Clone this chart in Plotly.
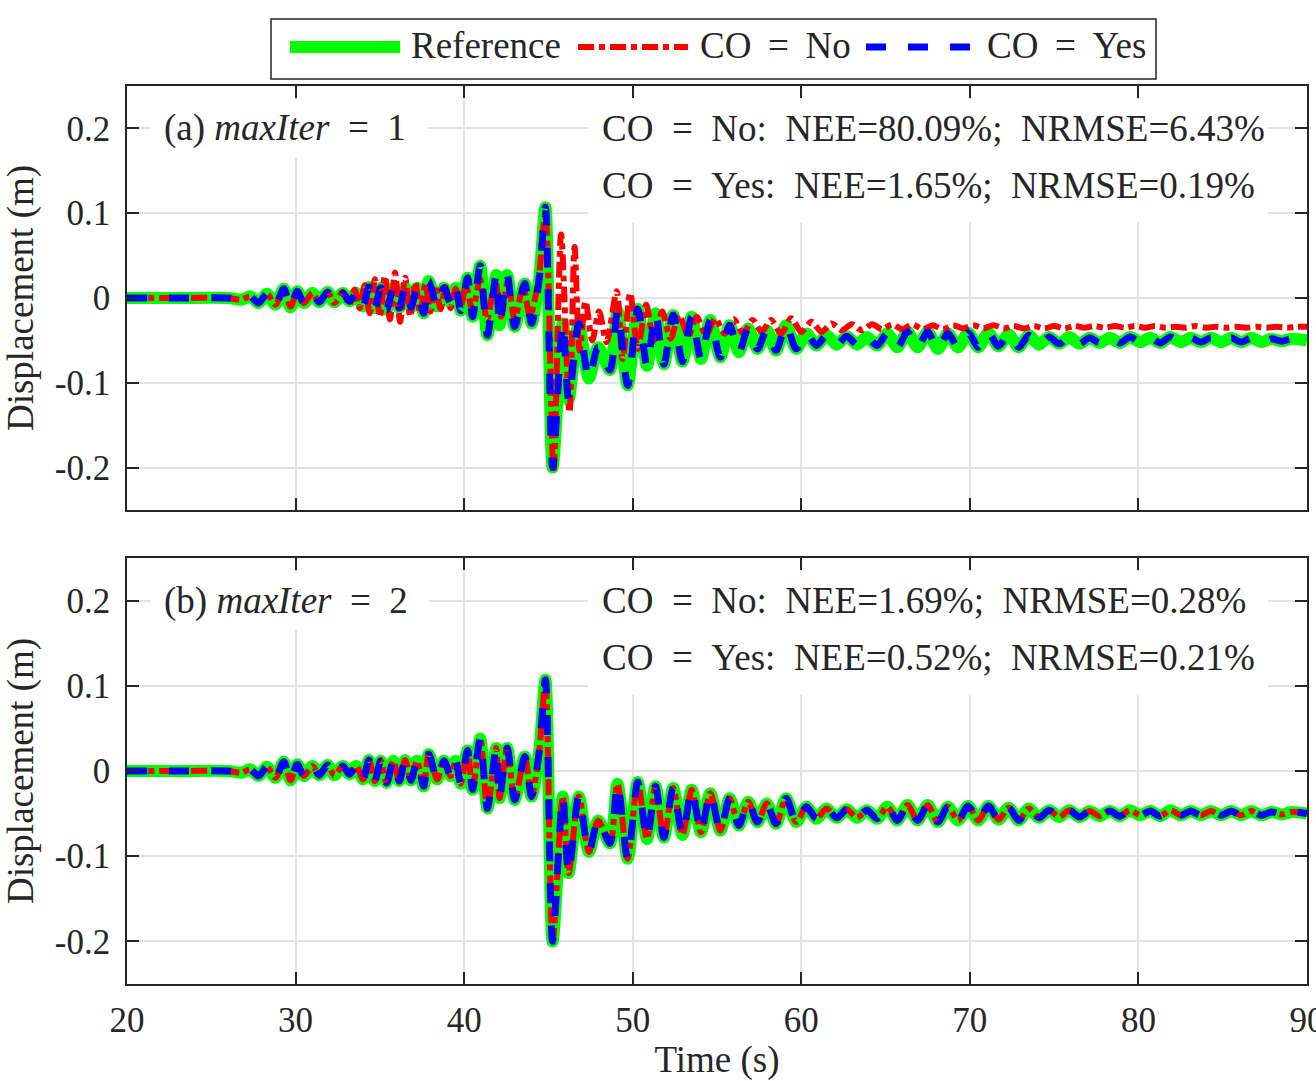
import plotly.graph_objects as go

# ---------------- data ----------------
t_ref = [20.0, 23.0, 26.0, 26.8, 27.3, 27.8, 28.3, 28.8, 29.3, 29.7,
         30.1, 30.5, 31.0, 31.4, 31.9, 32.3, 32.8, 33.2, 33.6, 34.0,
         34.35, 34.7, 35.05, 35.4, 35.8, 36.15, 36.5, 36.85, 37.2, 37.6,
         37.9, 38.4, 38.8, 39.2, 39.5, 39.8, 40.2, 40.5, 40.95, 41.38,
         41.9, 42.1, 42.55, 43.0, 43.6, 44.0, 44.45, 44.82, 45.25, 45.85,
         46.2, 46.8, 47.4, 47.95, 48.65, 49.1, 49.7, 50.3, 50.85, 51.35,
         51.85, 52.4, 52.95, 53.5, 54.05, 54.6, 55.2, 55.75, 56.3, 56.85,
         57.4, 57.95, 58.5, 59.1, 59.7, 60.3, 60.9, 61.5, 62.1, 62.7,
         63.3, 63.9, 64.5, 65.1, 65.7, 66.3, 66.9, 67.5, 68.1, 68.7,
         69.3, 69.9, 70.5, 71.1, 71.7, 72.3, 72.9, 73.5, 74.1, 74.7,
         75.3, 75.9, 76.5, 77.1, 77.7, 78.3, 78.9, 79.5, 80.1, 80.7,
         81.3, 81.9, 82.5, 83.1, 83.7, 84.3, 84.9, 85.5, 86.1, 86.7,
         87.3, 87.9, 88.5, 89.1, 90.0]
ref = [0.0, 0.0, 0.0, -0.002, 0.002, -0.006, 0.005, -0.008, 0.011, -0.011,
       0.008, -0.006, 0.006, -0.005, 0.007, -0.005, 0.006, -0.004, 0.006, -0.010,
       0.013, -0.012, 0.012, -0.014, 0.012, -0.012, 0.013, -0.011, 0.012, -0.018,
       0.020, -0.010, 0.012, -0.006, 0.012, -0.015, 0.024, -0.022, 0.038, -0.044,
       0.027, -0.032, 0.027, -0.034, 0.017, -0.030, 0.022, 0.107, -0.200, -0.030,
       -0.120, -0.030, -0.095, -0.058, -0.085, -0.015, -0.103, -0.013, -0.080, -0.018,
       -0.078, -0.020, -0.075, -0.022, -0.072, -0.026, -0.070, -0.032, -0.064, -0.036,
       -0.060, -0.038, -0.062, -0.032, -0.060, -0.042, -0.056, -0.044, -0.055, -0.045,
       -0.055, -0.046, -0.056, -0.042, -0.058, -0.040, -0.058, -0.040, -0.060, -0.042,
       -0.058, -0.041, -0.058, -0.041, -0.057, -0.043, -0.058, -0.044, -0.055, -0.046,
       -0.054, -0.046, -0.054, -0.047, -0.053, -0.047, -0.053, -0.046, -0.052, -0.047,
       -0.053, -0.046, -0.052, -0.047, -0.052, -0.047, -0.052, -0.047, -0.052, -0.047,
       -0.052, -0.048, -0.051, -0.048, -0.050]

# (a) maxIter = 1, CO = No
t_a_no = [20.0, 23.0, 26.0, 26.8, 27.3, 27.8, 28.3, 28.8, 29.3, 29.7,
          30.1, 30.5, 31.0, 31.4, 31.9, 32.3, 32.8, 33.2, 33.5, 33.8,
          34.1, 34.4, 34.7, 35.0, 35.3, 35.6, 35.9, 36.2, 36.5, 36.8,
          37.1, 37.4, 37.7, 38.0, 38.3, 38.6, 38.9, 39.2, 39.5, 39.8,
          40.1, 40.5, 40.95, 41.35, 41.85, 42.2, 42.6, 43.0, 43.5, 43.9,
          44.4, 44.82, 45.3, 45.75, 46.25, 46.55, 46.85, 47.2, 47.6, 48.0,
          48.45, 49.05, 49.4, 49.85, 50.3, 50.8, 51.25, 51.75, 52.25, 52.75,
          53.3, 53.8, 54.35, 54.9, 55.45, 56.0, 56.55, 57.1, 57.65, 58.2,
          58.8, 59.4, 60.0, 60.6, 61.2, 61.8, 62.4, 63.0, 63.6, 64.2,
          64.8, 65.4, 66.0, 66.6, 67.2, 67.8, 68.4, 69.0, 69.6, 70.2,
          70.8, 71.4, 72.0, 72.6, 73.2, 73.8, 74.4, 75.0, 75.6, 76.2,
          76.8, 77.4, 78.0, 78.6, 79.2, 79.8, 80.4, 81.0, 81.6, 82.2,
          82.8, 83.4, 84.0, 84.6, 85.2, 85.8, 86.4, 87.0, 87.6, 88.2,
          88.8, 89.4, 90.0]
a_no = [0.0, 0.0, 0.0, -0.002, 0.002, -0.006, 0.005, -0.008, 0.010, -0.010,
        0.007, -0.006, 0.006, -0.005, 0.007, -0.006, 0.007, -0.008, 0.010, -0.012,
        0.015, -0.018, 0.022, -0.022, 0.026, -0.025, 0.030, -0.028, 0.024, -0.022,
        0.018, -0.018, 0.016, -0.016, 0.015, -0.013, 0.013, -0.012, 0.011, -0.010,
        0.014, -0.014, 0.022, -0.026, 0.020, -0.022, 0.020, -0.026, 0.014, -0.022,
        0.020, 0.100, -0.206, 0.075, -0.135, 0.060, -0.062, -0.004, -0.050, -0.016,
        -0.052, 0.008, -0.072, 0.006, -0.060, -0.008, -0.050, -0.016, -0.048, -0.020,
        -0.045, -0.022, -0.044, -0.024, -0.042, -0.025, -0.042, -0.026, -0.040, -0.026,
        -0.042, -0.024, -0.040, -0.028, -0.040, -0.030, -0.038, -0.031, -0.038, -0.031,
        -0.037, -0.031, -0.037, -0.031, -0.037, -0.032, -0.037, -0.032, -0.036, -0.032,
        -0.036, -0.032, -0.036, -0.033, -0.036, -0.033, -0.036, -0.033, -0.036, -0.033,
        -0.035, -0.033, -0.035, -0.033, -0.035, -0.033, -0.035, -0.033, -0.035, -0.034,
        -0.035, -0.033, -0.035, -0.034, -0.035, -0.034, -0.035, -0.034, -0.035, -0.034,
        -0.035, -0.034, -0.034]

# CO = Yes (a), and both runs in (b), lie on top of the reference
a_yes = list(ref)
b_no = list(ref)
b_yes = list(ref)

x_ticks = [20, 30, 40, 50, 60, 70, 80, 90]
y_ticks = [-0.2, -0.1, 0, 0.1, 0.2]
y_ticktext = ["-0.2", "-0.1", "0", "0.1", "0.2"]

NB = "\u00a0"
TH = "\u2009"
series_names = ["Reference", "CO = No", "CO = Yes"]
legend_texts = ["Reference", f"CO{NB}{TH}={NB}{TH}No", f"CO{NB}{TH}={NB}{TH}Yes"]
panel_labels = [f"(a) <i>maxIter</i>{NB}{NB}={NB}{NB}1", f"(b) <i>maxIter</i>{NB}{NB}={NB}{NB}2"]
panel_stats = [[f"CO{NB}{NB}={NB}{NB}No:{NB}{NB}NEE=80.09%;{NB}{NB}NRMSE=6.43%",
                f"CO{NB}{NB}={NB}{NB}Yes:{NB}{NB}NEE=1.65%;{NB}{NB}NRMSE=0.19%"],
               [f"CO{NB}{NB}={NB}{NB}No:{NB}{NB}NEE=1.69%;{NB}{NB}NRMSE=0.28%",
                f"CO{NB}{NB}={NB}{NB}Yes:{NB}{NB}NEE=0.52%;{NB}{NB}NRMSE=0.21%"]]

# ---------------- styling ----------------
FONT = "Liberation Serif"
FS = 35     # tick labels
FT = 37     # titles / annotations
TXT = "#262626"
GREEN, RED, BLUE = "#00FF00", "#FF0000", "#0000FF"
styles = [dict(color=GREEN, width=12, dash="solid"),
          dict(color=RED, width=6, dash="16px,5px,6px,5px"),
          dict(color=BLUE, width=7, dash="20px,22px")]

fig = go.Figure()

panels = [
    ("x", "y", [(t_ref, ref), (t_a_no, a_no), (t_ref, a_yes)]),
    ("x2", "y2", [(t_ref, ref), (t_ref, b_no), (t_ref, b_yes)]),
]
for xa, ya, data in panels:
    for (tt, vv), st, nm in zip(data, styles, series_names):
        fig.add_trace(go.Scatter(x=tt, y=vv, mode="lines", name=nm, showlegend=False,
                                 line=dict(color=st["color"], width=st["width"], dash=st["dash"],
                                           shape="spline", smoothing=0.8),
                                 xaxis=xa, yaxis=ya))

axis_common = dict(showline=True, linecolor=TXT, linewidth=1.5, mirror="ticks",
                   ticks="inside", ticklen=12, tickwidth=1.5, tickcolor=TXT,
                   showgrid=True, gridcolor="#E3E3E3", gridwidth=1.5, zeroline=False,
                   tickfont=dict(family=FONT, size=FS, color=TXT))

W, H = 1316, 1081
ml, mr, mt, mb = 127, 9, 86, 97
plot_h = H - mt - mb
top_dom = [(984 - 510) / plot_h, 1.0]
bot_dom = [0.0, (984 - 558) / plot_h]

fig.update_layout(
    width=W, height=H,
    margin=dict(l=ml, r=mr, t=mt, b=mb, autoexpand=False),
    paper_bgcolor="white", plot_bgcolor="white",
    font=dict(family=FONT, size=FS, color=TXT),
    showlegend=False,
    xaxis=dict(axis_common, range=[20, 90], tickvals=x_ticks, showticklabels=False,
               anchor="y", domain=[0, 1]),
    yaxis=dict(axis_common, range=[-0.25, 0.25], tickvals=y_ticks, ticktext=y_ticktext,
               domain=top_dom, anchor="x", ticklabelstandoff=8,
               title=dict(text="Displacement (m)", font=dict(family=FONT, size=FT, color=TXT),
                          standoff=10)),
    xaxis2=dict(axis_common, range=[20, 90], tickvals=x_ticks, anchor="y2", domain=[0, 1],
                matches="x", ticklabelstandoff=4, ticklabeloverflow="allow",
                title=dict(text="Time (s)", font=dict(family=FONT, size=FT, color=TXT),
                           standoff=19)),
    yaxis2=dict(axis_common, range=[-0.25, 0.25], tickvals=y_ticks, ticktext=y_ticktext,
                domain=bot_dom, anchor="x2", ticklabelstandoff=8,
                title=dict(text="Displacement (m)", font=dict(family=FONT, size=FT, color=TXT),
                           standoff=10)),
)

shapes = []
annotations = []
for i, (xr, yr) in enumerate([("x", "y"), ("x2", "y2")]):
    # white boxes behind panel texts (hide grid lines)
    shapes.append(dict(type="rect", xref=xr, yref=yr, x0=21.4, x1=37.9, y0=0.165, y1=0.234,
                       fillcolor="white", line=dict(width=0), layer="above"))
    shapes.append(dict(type="rect", xref=xr, yref=yr, x0=47.36, x1=87.7, y0=0.089, y1=0.234,
                       fillcolor="white", line=dict(width=0), layer="above"))
    annotations.append(dict(xref=xr, yref=yr, x=22.08, y=0.2, xanchor="left", yanchor="middle",
                            text=panel_labels[i], showarrow=False,
                            font=dict(family=FONT, size=FT, color=TXT)))
    annotations.append(dict(xref=xr, yref=yr, x=48.07, y=0.2, xanchor="left", yanchor="middle",
                            text=panel_stats[i][0], showarrow=False,
                            font=dict(family=FONT, size=FT, color=TXT)))
    annotations.append(dict(xref=xr, yref=yr, x=48.07, y=0.133, xanchor="left", yanchor="middle",
                            text=panel_stats[i][1], showarrow=False,
                            font=dict(family=FONT, size=FT, color=TXT)))

# manual legend (px -> paper)
def px_x(p):
    return (p - ml) / (W - ml - mr)

def px_y(p):
    return (H - mb - p) / plot_h

shapes.append(dict(type="rect", xref="paper", yref="paper", x0=px_x(271), x1=px_x(1156),
                   y0=px_y(79), y1=px_y(19), line=dict(color=TXT, width=1.5), fillcolor="white"))
leg_x = [(290, 400, 409), (578, 688, 698), (866, 976, 985)]
for (a, b, tx), st, nm in zip(leg_x, styles, legend_texts):
    shapes.append(dict(type="line", xref="paper", yref="paper", x0=px_x(a), x1=px_x(b),
                       y0=px_y(47), y1=px_y(47),
                       line=dict(color=st["color"], width=st["width"], dash=st["dash"])))
    annotations.append(dict(xref="paper", yref="paper", x=px_x(tx), y=px_y(46),
                            xanchor="left", yanchor="middle", text=nm, showarrow=False,
                            font=dict(family=FONT, size=FT, color=TXT)))

fig.update_layout(shapes=shapes, annotations=annotations)
fig.write_html("out.html")
